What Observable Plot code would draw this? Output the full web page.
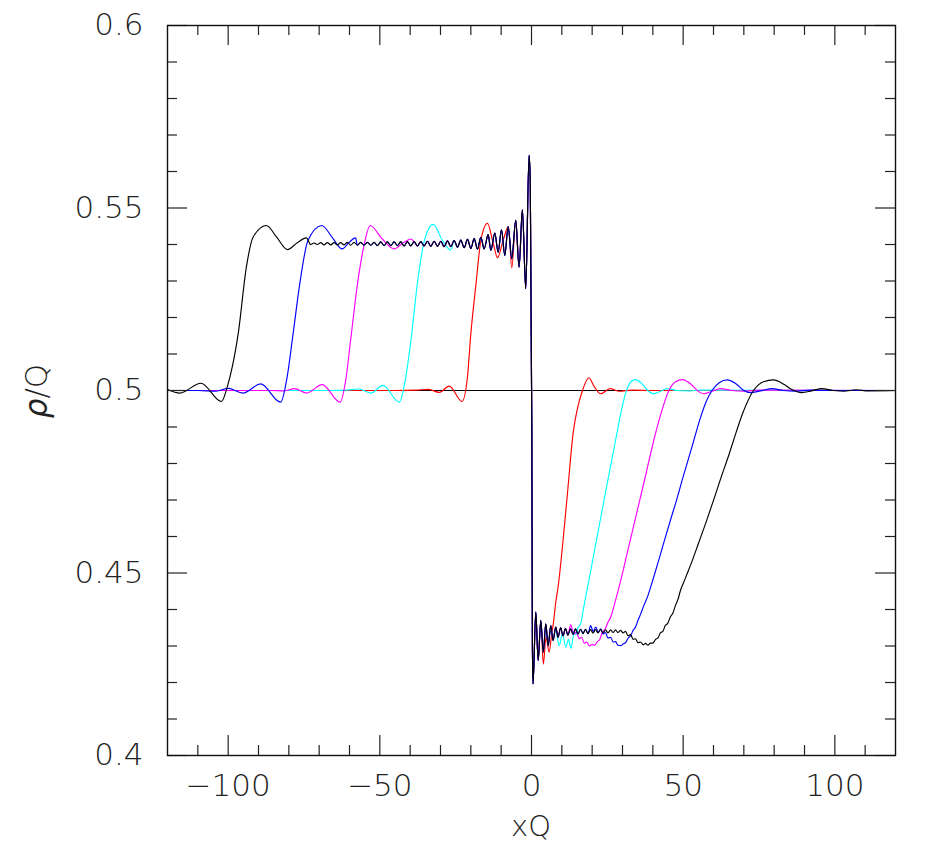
<!DOCTYPE html>
<html><head><meta charset="utf-8">
<script src="https://cdn.jsdelivr.net/npm/d3@7"></script>
<script src="https://cdn.jsdelivr.net/npm/@observablehq/plot@0.6"></script>
<style>body{margin:0;background:#fff} svg{display:block}</style>
</head><body><div id="chart"></div>
<script>
// ---------- data ----------
const seriesNames = ["t1", "t2", "t3", "t4", "t5"];
const seriesColors = ["#ff0000", "#00ffff", "#ff00ff", "#0000ff", "#000000"];

const xMajor = [-100, -50, 0, 50, 100];
const xMinor = [-110, -90, -80, -70, -60, -40, -30, -20, -10, 10, 20, 30, 40, 60, 70, 80, 90, 110];
const yMajor = [0.4, 0.45, 0.5, 0.55, 0.6];
const yMinor = [0.41, 0.42, 0.43, 0.44, 0.46, 0.47, 0.48, 0.49, 0.51, 0.52, 0.53, 0.54, 0.56, 0.57, 0.58, 0.59];

// initial state (flat line)
const initial = [[-120, 0.5], [120, 0.5]];

// common oscillating plateau on the left (all curves coincide here)
const plateauLeft = [
  [-72.8,0.5400],[-71.7,0.5404],[-70.6,0.5400],[-69.5,0.5405],[-68.4,0.5399],[-67.3,0.5405],[-66.2,0.5399],
  [-65.1,0.5405],[-64.0,0.5399],[-62.9,0.5405],[-61.8,0.5399],[-60.7,0.5406],[-59.6,0.5398],[-58.5,0.5406],
  [-57.4,0.5398],[-56.3,0.5406],[-55.2,0.5398],[-54.1,0.5406],[-53.0,0.5398],[-51.9,0.5406],[-50.8,0.5397],
  [-49.7,0.5407],[-48.6,0.5397],[-47.5,0.5407],[-46.4,0.5397],[-45.3,0.5407],[-44.2,0.5397],[-43.1,0.5407],
  [-42.0,0.5396],[-40.9,0.5408],[-39.8,0.5396],[-38.7,0.5408],[-37.6,0.5396],[-36.5,0.5408],[-35.4,0.5396],
  [-34.3,0.5409],[-33.2,0.5395],[-32.1,0.5409],[-31.0,0.5395],[-29.9,0.5409],[-28.8,0.5394],[-27.7,0.5410],
  [-26.6,0.5394],[-25.5,0.5411],[-24.4,0.5393],[-23.3,0.5412],[-22.2,0.5391],[-21.1,0.5414],[-20.0,0.5389],
  [-18.9,0.5416],[-17.8,0.5387]
];
// growing oscillation next to the origin and the jump
const coreLeft = [
  [-16.7,0.5420],[-15.6,0.5388],[-14.3,0.5427],[-13.4,0.5384],[-12.1,0.5431],[-11.0,0.5379],[-9.9,0.5440],
  [-8.8,0.5370],[-7.7,0.5449],[-6.5,0.5361],[-5.2,0.5466],[-4.1,0.5338],[-3.0,0.5495],[-1.9,0.5279],
  [-0.8,0.5644],[-0.4,0.5570],[0.1,0.4900],[0.3,0.4300]
];
const coreRight = [
  [0.5,0.4196],[1.41,0.4393],[2.2,0.4260],[3.06,0.4370],[3.9,0.4283],[4.7,0.4361],[5.5,0.4301],
  [6.35,0.4356],[7.1,0.4315],[8.0,0.4352],[8.75,0.4324]
];
const plateauRight = [
  [9.6,0.4350],[10.4,0.4328],[11.2,0.4348],[12.0,0.4330],[12.9,0.4347],[13.7,0.4332],[14.5,0.4347],
  [15.3,0.4333],[16.2,0.4346],[17.0,0.4334],[17.8,0.4346],[18.6,0.4334],[19.5,0.4345],[20.3,0.4335],
  [21.1,0.4345],[21.9,0.4336],[22.8,0.4345],[23.6,0.4336],[24.4,0.4344],[25.2,0.4336],[26.1,0.4344],
  [26.9,0.4337],[27.7,0.4344],[28.5,0.4337],[29.4,0.4343]
];

// own parts of each curve (left front / right front)
const redLeft = [
  [-120,0.5000],[-45,0.5000],[-38,0.5001],[-34.0,0.5003],[-30.4,0.4995],[-27.1,0.5012],[-22.9,0.4970],
  [-21.2,0.5030],[-20.0,0.5155],[-18.3,0.5292],[-16.7,0.5411],[-14.5,0.5458],[-12.8,0.5410],[-11.2,0.5364],
  [-9.4,0.5410],[-7.6,0.5449],[-6.5,0.5336]
];
const redRight = [
  [3.9,0.4250],[4.8,0.4325],[5.8,0.4283],[6.6,0.4330],[7.2,0.4362],[8.0,0.4420],[8.75,0.4461],
  [10.4,0.4589],[11.84,0.4717],[13.8,0.4888],[15.0,0.4945],[16.8,0.5000],[18.9,0.5035],[20.6,0.5012],
  [22.8,0.4991],[25.9,0.5005],[29.0,0.4998],[33.0,0.5001],[40,0.5000],[120,0.5000]
];
const cyanLeft = [
  [-120,0.5000],[-66,0.5000],[-61,0.5001],[-57.0,0.5004],[-52.9,0.4993],[-49.0,0.5014],[-43.6,0.4968],
  [-41.8,0.5020],[-40.0,0.5120],[-37.5,0.5301],[-35.3,0.5411],[-32.4,0.5455],[-29.4,0.5412],[-26.6,0.5385]
];
const cyanRight = [
  [8.0,0.4345],[9.1,0.4301],[10.2,0.4333],[11.3,0.4297],[12.2,0.4318],[13.0,0.4294],[14.0,0.4333],
  [14.7,0.4332],[15.3,0.4350],[16.2,0.4361],[17.3,0.4410],[18.9,0.4479],[21.0,0.4571],[23.0,0.4659],
  [25.0,0.4747],[27.7,0.4863],[29.5,0.4940],[31.3,0.5000],[32.8,0.5024],[34.3,0.5030],[36.5,0.5018],
  [38.3,0.5000],[40.3,0.4991],[42.5,0.4998],[44.7,0.5005],[48.0,0.5000],[52.0,0.4999],[56,0.5001],[120,0.5000]
];
const magentaLeft = [
  [-120,0.5000],[-86,0.5000],[-81.5,0.4999],[-78.1,0.5005],[-74.2,0.4993],[-69.0,0.5016],[-63.1,0.4968],
  [-61.3,0.5025],[-59.6,0.5140],[-57.4,0.5290],[-55.1,0.5402],[-53.2,0.5452],[-49.2,0.5415],[-45.2,0.5388],
  [-42.4,0.5404],[-39.8,0.5415]
];
const magentaRight = [
  [12.9,0.4358],[14.0,0.4333],[14.8,0.4338],[15.7,0.4320],[16.5,0.4324],[17.4,0.4308],[18.2,0.4311],
  [19.1,0.4300],[19.9,0.4304],[20.8,0.4302],[21.7,0.4312],[22.5,0.4318],[23.4,0.4338],[24.2,0.4345],
  [25.2,0.4365],[26.1,0.4379],[27.7,0.4425],[29.4,0.4479],[31.5,0.4553],[33.5,0.4623],[35.5,0.4693],
  [37.5,0.4763],[40.3,0.4863],[42.8,0.4940],[45.3,0.5000],[47.5,0.5024],[49.7,0.5030],[52.5,0.5018],
  [54.5,0.5001],[56.8,0.4991],[59.5,0.4998],[62.3,0.5005],[66.0,0.5000],[70.0,0.4998],[75.0,0.5001],[120,0.5000]
];
const blueLeft = [
  [-120,0.5000],[-110,0.5000],[-104,0.4998],[-100.0,0.5006],[-95.1,0.4993],[-89.3,0.5018],[-82.7,0.4968],
  [-80.7,0.5030],[-78.6,0.5155],[-76.4,0.5292],[-73.7,0.5411],[-69.1,0.5452],[-65.6,0.5418],[-62.4,0.5388],
  [-60.2,0.5405],[-58.0,0.5418]
];
const blueRight = [
  [19.5,0.4356],[20.3,0.4340],[21.2,0.4352],[22.0,0.4337],[22.8,0.4347],[23.6,0.4333],[24.4,0.4337],
  [25.2,0.4322],[26.1,0.4324],[26.9,0.4311],[27.7,0.4312],[28.5,0.4302],[29.4,0.4301],[30.3,0.4306],
  [31.1,0.4310],[31.9,0.4322],[32.7,0.4328],[33.5,0.4343],[34.3,0.4352],[35.1,0.4370],[36.0,0.4388],
  [37.0,0.4410],[38.2,0.4434],[39.3,0.4462],[40.3,0.4489],[41.9,0.4534],[44.0,0.4594],[46.0,0.4650],
  [47.8,0.4699],[50.0,0.4764],[52.0,0.4820],[53.5,0.4863],[55.5,0.4920],[57.5,0.4968],[59.5,0.5000],
  [62.0,0.5022],[64.5,0.5029],[67.5,0.5018],[70.0,0.5000],[72.1,0.4994],[75.5,0.4999],[79.3,0.5005],
  [83.0,0.5000],[87.0,0.4998],[92.0,0.5001],[100,0.5000],[120,0.5000]
];
const blackLeft = [
  [-120,0.5003],[-115.9,0.4993],[-109.0,0.5020],[-102.2,0.4970],[-100.3,0.5010],[-98.9,0.5055],
  [-96.7,0.5155],[-94.0,0.5338],[-91.8,0.5420],[-87.4,0.5452],[-84.0,0.5420],[-80.5,0.5386],
  [-77.2,0.5405],[-74.2,0.5418]
];
const blackRight = [
  [30.2,0.4336],[31.0,0.4340],[31.8,0.4328],[32.7,0.4331],[33.5,0.4318],[34.3,0.4320],[35.1,0.4309],
  [36.0,0.4311],[36.8,0.4303],[37.6,0.4307],[38.4,0.4302],[39.2,0.4308],[40.0,0.4308],[40.9,0.4318],
  [41.7,0.4322],[42.5,0.4336],[43.3,0.4340],[44.1,0.4356],[44.9,0.4362],[45.8,0.4380],[46.6,0.4390],
  [47.5,0.4412],[48.3,0.4428],[49.1,0.4452],[50.2,0.4475],[51.3,0.4498],[53.0,0.4534],[55.0,0.4580],
  [57.5,0.4638],[60.0,0.4699],[62.5,0.4762],[65.0,0.4822],[66.6,0.4863],[69.5,0.4935],[73.2,0.5000],
  [76.5,0.5024],[79.8,0.5029],[83.0,0.5018],[86.0,0.5002],[89.1,0.4994],[92.4,0.4999],[95.7,0.5005],
  [99.5,0.5000],[103.0,0.4998],[107.0,0.5002],[111.0,0.4999],[120,0.5000]
];

// ---------- assemble ----------
const shared = [...plateauLeft, ...coreLeft, ...coreRight, ...plateauRight];
function assemble(left, right) {
  const a = left[left.length - 1][0], b = right[0][0];
  return [...left, ...shared.filter(p => p[0] > a && p[0] < b), ...right];
}
const curves = {
  t1: assemble(redLeft, redRight),
  t2: assemble(cyanLeft, cyanRight),
  t3: assemble(magentaLeft, magentaRight),
  t4: assemble(blueLeft, blueRight),
  t5: assemble(blackLeft, blackRight)
};
const rows = seriesNames.flatMap(name => curves[name].map(([x, y]) => ({x, y, series: name})));

// ---------- layout ----------
const W = 940, H = 846, mL = 167, mR = 45, mT = 25, mB = 91;
const xDomain = [-120, 120], yDomain = [0.4, 0.6];
const pxPerX = (W - mL - mR) / (xDomain[1] - xDomain[0]);
const pxPerY = (H - mT - mB) / (yDomain[1] - yDomain[0]);
const majorLen = 20, minorLen = 10;
const tickColor = "#222";

function xTicks(vals, len) {
  return [
    Plot.ruleX(vals, {x: d => d, y1: () => yDomain[0], y2: () => yDomain[0] + len / pxPerY, stroke: tickColor, strokeWidth: 1.2}),
    Plot.ruleX(vals, {x: d => d, y1: () => yDomain[1], y2: () => yDomain[1] - len / pxPerY, stroke: tickColor, strokeWidth: 1.2})
  ];
}
function yTicks(vals, len) {
  return [
    Plot.ruleY(vals, {y: d => d, x1: () => xDomain[0], x2: () => xDomain[0] + len / pxPerX, stroke: tickColor, strokeWidth: 1.2}),
    Plot.ruleY(vals, {y: d => d, x1: () => xDomain[1], x2: () => xDomain[1] - len / pxPerX, stroke: tickColor, strokeWidth: 1.2})
  ];
}

const fmtX = d => (d < 0 ? "\u2212" + Math.abs(d) : String(d));
const fmtY = d => String(d);

const chart = Plot.plot({
  width: W, height: H,
  marginLeft: mL, marginRight: mR, marginTop: mT, marginBottom: mB,
  style: {fontFamily: "DejaVu Sans", fontSize: "31px", background: "#fff", color: "#222"},
  x: {domain: xDomain},
  y: {domain: yDomain},
  color: {type: "ordinal", domain: seriesNames, range: seriesColors},
  marks: [
    Plot.line(initial, {x: d => d[0], y: d => d[1], stroke: "#000", strokeWidth: 1}),
    Plot.line(rows, {x: "x", y: "y", z: "series", stroke: "series", strokeWidth: 1.15, curve: "monotone-x"}),
    ...xTicks(xMajor, majorLen), ...xTicks(xMinor, minorLen),
    ...yTicks(yMajor, majorLen), ...yTicks(yMinor, minorLen),
    Plot.frame({stroke: "#111", strokeWidth: 1.4}),
    Plot.axisX(xMajor, {anchor: "bottom", tickSize: 0, tickPadding: 18, tickFormat: fmtX, label: null, fontSize: 31, fontWeight: 200}),
    Plot.axisY(yMajor, {anchor: "left", tickSize: 0, tickPadding: 24, tickFormat: fmtY, label: null, fontSize: 31, fontWeight: 200})
  ]
});

const svg = d3.select(chart);
svg.append("text")
  .attr("x", 531).attr("y", 836)
  .attr("text-anchor", "middle")
  .attr("font-size", 29).attr("font-weight", 200).attr("fill", "#222")
  .text("xQ");
const yl = svg.append("text")
  .attr("transform", "translate(47,391) rotate(-90)")
  .attr("text-anchor", "middle")
  .attr("font-size", 31).attr("font-weight", 200).attr("fill", "#222");
yl.append("tspan").attr("font-style", "italic").text("\u03c1");
yl.append("tspan").text("/Q");

document.getElementById("chart").appendChild(chart);
</script></body></html>
